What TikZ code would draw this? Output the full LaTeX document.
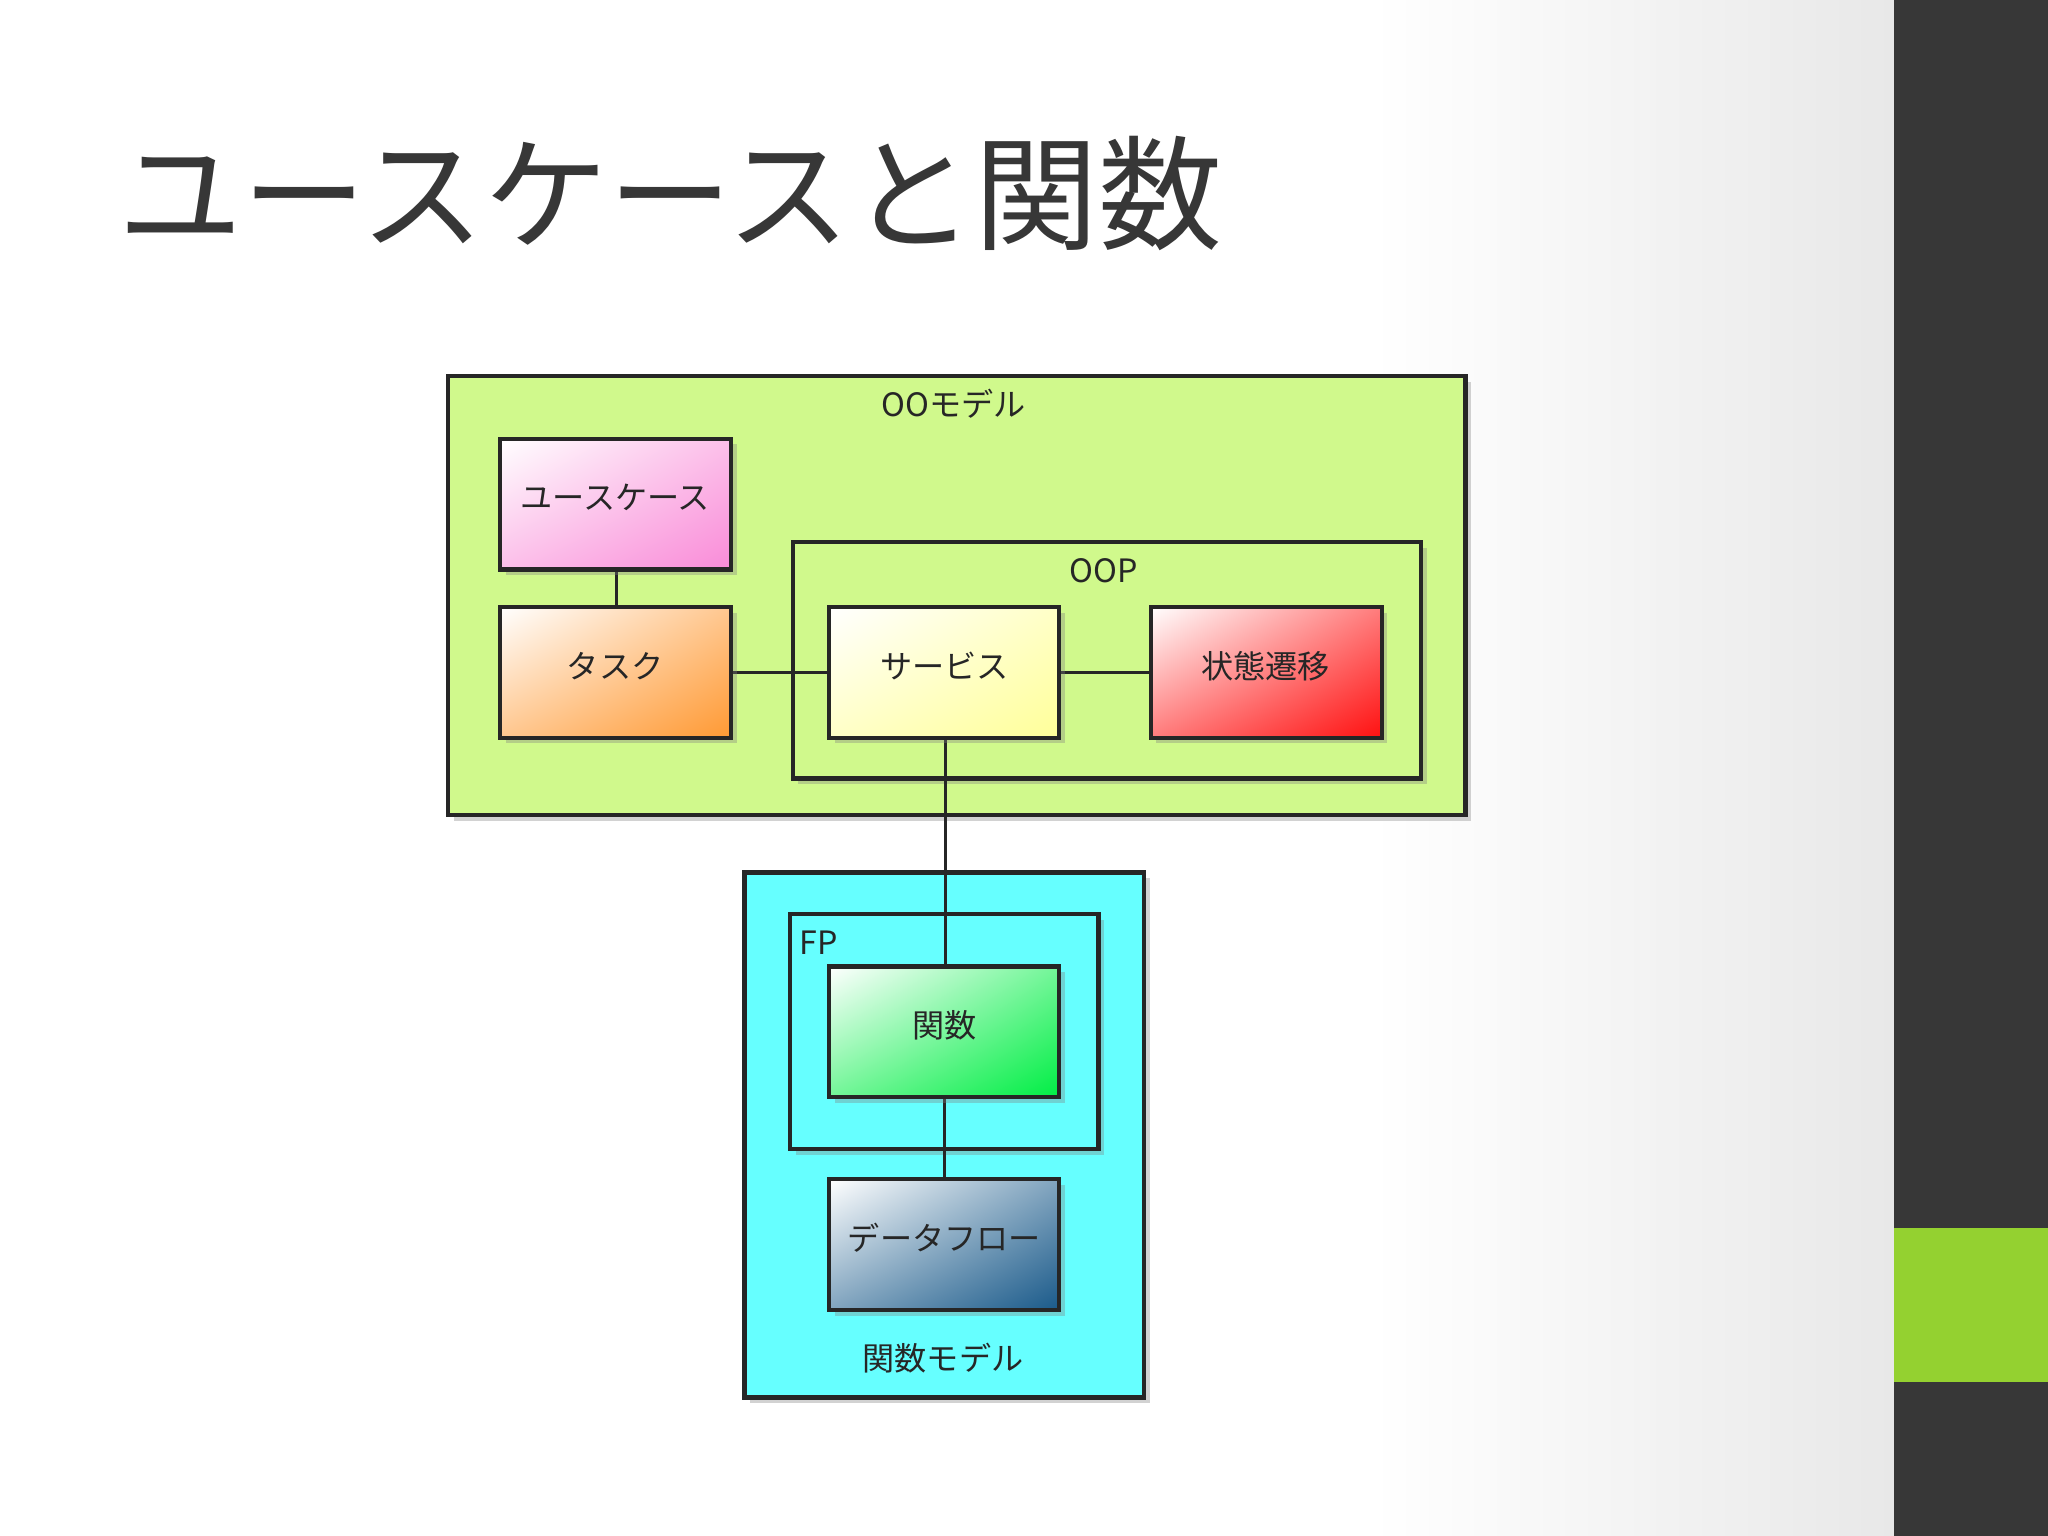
\documentclass[tikz,border=0pt]{standalone}
\usepackage{fontspec}
\setmainfont{Noto Sans CJK JP}
\usetikzlibrary{shadows,shadings}
\definecolor{oogreen}{HTML}{D0F98C}
\definecolor{fpcyan}{HTML}{66FFFF}
\definecolor{dark}{HTML}{373737}
\definecolor{barGreen}{HTML}{94D130}
\definecolor{cpink}{HTML}{F98BD8}
\definecolor{corange}{HTML}{FF9933}
\definecolor{cyel}{HTML}{FFFF99}
\definecolor{cred}{HTML}{FF1010}
\definecolor{cgreen}{HTML}{00EE44}
\definecolor{cblue}{HTML}{1A5A8A}
\tikzset{
  grp/.style={draw=black!85, line width=0.9pt, drop shadow={shadow xshift=1.2pt, shadow yshift=-1.2pt, opacity=0.35}},
  lbl/.style={font=\fontsize{7}{8}\selectfont, text=black!85},
  gbox/.style={draw=black!85, line width=0.9pt, drop shadow={shadow xshift=1.2pt, shadow yshift=-1.2pt, opacity=0.35},
     upper left=white, lower right=#1, upper right=#1!55, lower left=#1!55},
  conn/.style={draw=black!85, line width=0.7pt}
}
\begin{document}
\begin{tikzpicture}[x=0.01cm,y=-0.01cm]
\useasboundingbox (0,0) rectangle (1568,1176);
\fill[white] (0,0) rectangle (1450,1176);
\shade[left color=white, right color=black!9] (1050,0) rectangle (1450,1176);
\fill[dark] (1450,0) rectangle (1568,1176);
\fill[barGreen] (1450,940) rectangle (1568,1058);
\node[anchor=west, text=dark, font=\fontsize{27}{30}\selectfont, inner sep=0] (title) at (90,148) {ユースケースと関数};

% groups
\path[grp, fill=oogreen] (343,288) rectangle (1122,624);
\node[lbl] (oolbl) at (730,309) {OOモデル};
\path[grp, fill=oogreen] (607,415) rectangle (1088,596);
\node[lbl] (ooplbl) at (845,437) {OOP};
\path[grp, fill=fpcyan] (570,668) rectangle (876,1070);
\node[lbl] (fmlbl) at (722,1040) {関数モデル};
\path[grp, fill=fpcyan] (605,700) rectangle (841,880);
\node[lbl] (fplbl) at (627,722) {FP};

% connectors (drawn first, boxes on top)
\coordinate (sb) at (724,565);
\coordinate (ft) at (724,740);
\draw[conn] (472,436) -- (472,465);
\draw[conn] (560,515) -- (635,515);
\draw[conn] (811,515) -- (881,515);
\draw[conn] (sb) -- (ft);
\draw[conn] (723,840) -- (723,903);

% boxes
\shade[gbox=cpink] (383,336) rectangle (560,436);
\node[lbl] (uc) at (471,381) {ユースケース};
\shade[gbox=corange] (383,465) rectangle (560,565);
\node[lbl] (task) at (471,510) {タスク};
\shade[gbox=cyel] (635,465) rectangle (811,565);
\node[lbl] (svc) at (723,510) {サービス};
\shade[gbox=cred] (881,465) rectangle (1058,565);
\node[lbl] (st) at (969,510) {状態遷移};
\shade[gbox=cgreen] (635,740) rectangle (811,840);
\node[lbl] (fn) at (723,785) {関数};
\shade[gbox=cblue] (635,903) rectangle (811,1003);
\node[lbl] (df) at (723,948) {データフロー};
\end{tikzpicture}
\end{document}
